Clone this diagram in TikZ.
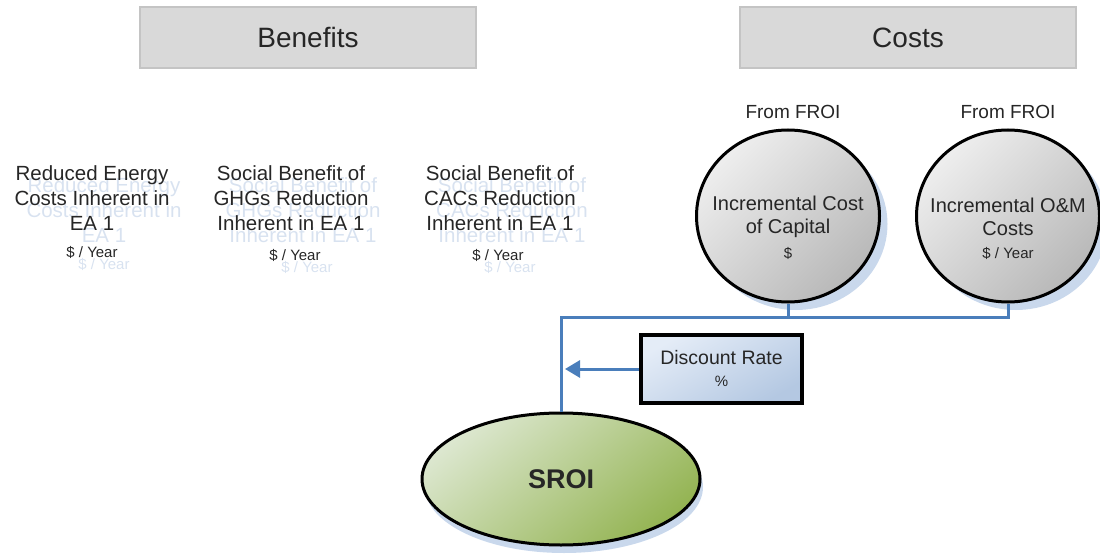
\documentclass[tikz,border=0pt]{standalone}
\usepackage{fontspec}
\setmainfont{Liberation Sans}
\usetikzlibrary{shapes.geometric,arrows.meta}
\definecolor{hdrfill}{HTML}{D9D9D9}
\definecolor{hdrline}{HTML}{C4C4C4}
\definecolor{ink}{HTML}{262626}
\definecolor{ghost}{HTML}{D8E2F0}
\definecolor{wire}{HTML}{4A7EBB}
\definecolor{shade}{HTML}{C9D8EC}
\definecolor{greylight}{HTML}{EEEEEE}
\definecolor{greydark}{HTML}{B8B8B8}
\definecolor{bluelight}{HTML}{E4ECF7}
\definecolor{bluedark}{HTML}{B4C8E2}
\definecolor{greenlight}{HTML}{DCE7CF}
\definecolor{greendark}{HTML}{94B453}
\tikzset{
  header/.style={draw=hdrline, fill=hdrfill, line width=1.5pt, minimum width=336pt,
    minimum height=61pt, inner sep=0pt, text=ink, font=\fontsize{28}{32}\selectfont},
  benefit/.style={align=center, inner sep=0pt, anchor=north, text=ink,
    font=\fontsize{20.5}{25}\selectfont},
  ghosttext/.style={benefit, text=ghost},
  unit/.style={inner sep=0pt, text=ink, font=\fontsize{15}{18}\selectfont},
  ghostunit/.style={unit, text=ghost},
  source/.style={inner sep=0pt, text=ink, font=\fontsize{19}{22}\selectfont},
  costnode/.style={ellipse, draw=black, line width=3pt, minimum width=183pt,
    minimum height=172pt, inner sep=0pt, top color=greylight, bottom color=greydark,
    shading angle=45},
  costshadow/.style={ellipse, fill=shade, minimum width=183pt, minimum height=172pt,
    inner sep=0pt},
  costtext/.style={align=center, inner sep=0pt, text=ink,
    font=\fontsize{20}{23}\selectfont},
  ratebox/.style={rectangle, draw=black, line width=4pt, minimum width=161pt,
    minimum height=68pt, inner sep=0pt, top color=bluelight, bottom color=bluedark,
    shading angle=30},
  resultnode/.style={ellipse, draw=black, line width=3pt, minimum width=278pt,
    minimum height=132pt, inner sep=0pt, top color=greenlight, bottom color=greendark,
    shading angle=40, text=ink, font=\bfseries\fontsize{27}{30}\selectfont},
  resultshadow/.style={ellipse, fill=shade, minimum width=278pt, minimum height=132pt,
    inner sep=0pt},
  wireline/.style={draw=wire, line width=3pt},
}
\begin{document}
\begin{tikzpicture}[x=1pt,y=-1pt]
\useasboundingbox (0,0) rectangle (1100,556);

% column headers
\node[header] (benefits) at (308,37.5) {Benefits};
\node[header] (costs) at (908,37.5) {Costs};

% benefit items (faded copy behind each label)
\node[ghosttext] (g1) at (104,177) {Reduced Energy\\Costs Inherent in\\EA 1};
\node[ghostunit] (g1u) at (104,264) {\$ / Year};
\node[ghosttext] (g2) at (303,177) {Social Benefit of\\GHGs Reduction\\Inherent in EA 1};
\node[ghostunit] (g2u) at (307,267) {\$ / Year};
\node[ghosttext] (g3) at (512,177) {Social Benefit of\\CACs Reduction\\Inherent in EA 1};
\node[ghostunit] (g3u) at (510,267) {\$ / Year};

\node[benefit] (b1) at (92,165) {Reduced Energy\\Costs Inherent in\\EA 1};
\node[unit] (b1u) at (92,252) {\$ / Year};
\node[benefit] (b2) at (291,165) {Social Benefit of\\GHGs Reduction\\Inherent in EA 1};
\node[unit] (b2u) at (295,255) {\$ / Year};
\node[benefit] (b3) at (500,165) {Social Benefit of\\CACs Reduction\\Inherent in EA 1};
\node[unit] (b3u) at (498,255) {\$ / Year};

% cost items
\node[source] (f1) at (793,112) {From FROI};
\node[source] (f2) at (1008,112) {From FROI};
\node[costshadow] (c1s) at (796,224) {};
\node[costshadow] (c2s) at (1016,224) {};
\node[costnode] (c1) at (788,216) {};
\node[costnode] (c2) at (1008,216) {};
\node[costtext] (c1t) at (788,217) {Incremental Cost\\of Capital};
\node[unit] (c1u) at (788,253) {\$};
\node[costtext] (c2t) at (1008,217) {Incremental O\&M\\Costs};
\node[unit] (c2u) at (1008,253) {\$ / Year};

% discount rate
\node[ratebox] (rate) at (721.5,369) {};
\node[costtext, font=\fontsize{19.5}{23}\selectfont] (ratet) at (721.5,358) {Discount Rate};
\node[unit] (rateu) at (721.5,381) {\%};

% result
\node[resultshadow] (sroishadow) at (564,487) {};
\node[resultnode] (sroi) at (561,479) {SROI};

% connectors
\coordinate (bus) at (561,317);
\draw[wireline] (c2.south) -- (c2.south |- bus) -- (bus) -- (sroi.north);
\draw[wireline] (c1.south) -- (c1.south |- bus);
\draw[wireline, -{Triangle[length=15pt,width=17pt]}, shorten >=4pt]
  (rate.west) -- (sroi.north |- rate.west);
\end{tikzpicture}
\end{document}
